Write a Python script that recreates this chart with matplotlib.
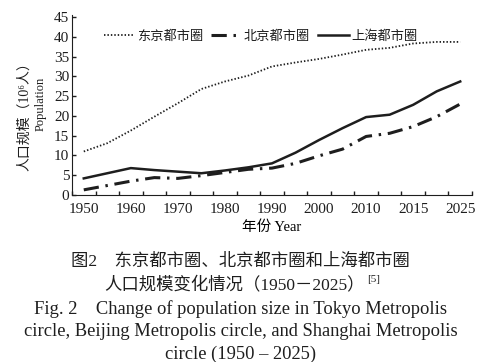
import matplotlib
matplotlib.use("Agg")
import matplotlib.pyplot as plt

years = ["1950", "1955", "1960", "1965", "1970", "1975", "1980", "1985", "1990",
         "1995", "2000", "2005", "2010", "2012", "2015", "2020", "2025"]
tokyo = [11.0, 13.1, 16.3, 19.8, 23.2, 26.8, 28.7, 30.2, 32.5, 33.5, 34.4,
         35.5, 36.7, 37.2, 38.3, 38.7, 38.7]
beijing = [1.3, 2.4, 3.5, 4.4, 4.2, 4.9, 5.7, 6.5, 6.8, 8.0, 9.9,
           11.6, 14.8, 15.6, 17.3, 19.8, 23.0]
shanghai = [4.2, 5.5, 6.8, 6.3, 5.9, 5.5, 6.2, 7.0, 8.0, 10.7, 13.9,
            16.9, 19.7, 20.3, 22.8, 26.2, 28.7]
names = ["东京都市圈", "北京都市圈", "上海都市圈"]

serif = ["Liberation Serif", "Noto Sans CJK SC"]
ink = "#1e1e1e"

plt.rcParams["font.family"] = serif
plt.rcParams["text.color"] = ink
plt.rcParams["axes.edgecolor"] = ink
plt.rcParams["xtick.color"] = ink
plt.rcParams["ytick.color"] = ink

fig = plt.figure(figsize=(4.81, 3.62), dpi=100)
ax = fig.add_axes([72 / 481, 1 - 195 / 362, 400 / 481, 178 / 362])

x = list(range(len(years)))
ax.plot(x, tokyo, color=ink, lw=1.3, linestyle=(0, (0.8, 1.1)), label=names[0])
ax.plot(x, beijing, color=ink, lw=2.2, linestyle=(0, (5, 2.2, 0.8, 2.2)), label=names[1])
ax.plot(x, shanghai, color=ink, lw=1.8, linestyle="-", label=names[2])

ax.set_xlim(-0.5, len(years) - 0.5)
ax.set_ylim(0, 45)
ax.set_yticks(range(0, 46, 5))
ax.set_xticks(x[::2])
ax.set_xticklabels(years[::2])
ax.set_xticks([i - 0.5 for i in range(len(years) + 1)], minor=True)
ax.tick_params(axis="x", which="major", length=0, labelsize=11, pad=6)
ax.tick_params(axis="x", which="minor", direction="in", length=3, width=1)
ax.tick_params(axis="y", direction="in", length=3, width=1, labelsize=11, pad=2)
ax.spines["top"].set_visible(False)
ax.spines["right"].set_visible(False)
ax.spines["left"].set_bounds(0, 45.5)

ax.legend(loc="upper left", bbox_to_anchor=(0.05, 0.995), ncol=3, frameon=False,
          handlelength=2.3, handletextpad=0.2, columnspacing=0.6,
          prop={"family": ["Noto Sans CJK SC"], "size": 9.5})

ax.set_xlabel("年份 Year", fontsize=10.5, labelpad=3)
fig.text(24 / 481, 1 - 113 / 362, "人口规模（10⁶人）", rotation=90, ha="center", va="center",
         fontsize=10)
fig.text(41 / 481, 1 - 104 / 362, "Population", rotation=90, ha="center", va="center",
         fontsize=9)

fig.text(0.5, 1 - 262 / 362, "图2　东京都市圈、北京都市圈和上海都市圈", ha="center", va="center",
         fontsize=12.5)
t2 = fig.text(0.487, 1 - 285 / 362, "人口规模变化情况（1950－2025）", ha="center", va="center",
              fontsize=12.5)
fig.add_artist(plt.Annotation("[5]", xy=(1.0, 0.85), xycoords=t2, xytext=(2, 0),
                              textcoords="offset points", ha="left", va="center",
                              fontsize=8))
fig.text(0.5, 1 - 309 / 362, "Fig. 2    Change of population size in Tokyo Metropolis",
         ha="center", va="center", fontsize=13.3)
fig.text(0.5, 1 - 332 / 362, "circle, Beijing Metropolis circle, and Shanghai Metropolis",
         ha="center", va="center", fontsize=13.3)
fig.text(0.5, 1 - 354 / 362, "circle (1950 – 2025)", ha="center", va="center",
         fontsize=13.3)

fig.savefig("out.png", dpi=100)
